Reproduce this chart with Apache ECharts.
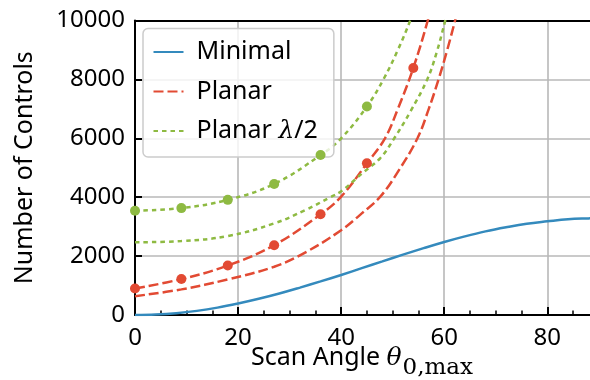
<!DOCTYPE html>
<html>
<head>
<meta charset="utf-8">
<script src="https://cdn.jsdelivr.net/npm/echarts@6/dist/echarts.min.js"></script>
<style>
  html, body { margin: 0; padding: 0; background: #fff; }
  #chart { width: 590px; height: 380px; }
</style>
</head>
<body>
<div id="chart"></div>
<script>
// Number of controls versus maximum scan angle (degrees)

// Minimal architecture
const minimalAngle = [0, 4, 8, 12, 16, 20, 24, 28, 32, 36, 40, 44, 48, 52, 56, 60, 64, 68, 72, 76, 80, 84, 88, 90];
const minimalCount = [0, 15, 60, 140, 250, 390, 550, 730, 930, 1140, 1360, 1590, 1820, 2050, 2270, 2480, 2670, 2840, 2980, 3100, 3180, 3250, 3280, 3290];

// Planar array: fitted curve through the sampled designs, plus the lower bound curve
const planarFitAngle = [0, 9, 18, 27, 36, 40, 45, 48.5, 51, 54, 56.8, 58.5];
const planarFitCount = [900, 1220, 1680, 2370, 3420, 4020, 5150, 6000, 7000, 8390, 10000, 11200];
const planarSampleAngle = [0, 9, 18, 27, 36, 45, 54];
const planarSampleCount = [900, 1220, 1680, 2370, 3420, 5150, 8390];
const planarBoundAngle = [0, 9, 18, 27, 33, 40, 44, 47.6, 51, 54.8, 57, 58.9, 60.5, 62.1, 63.5];
const planarBoundCount = [640, 870, 1210, 1640, 2120, 2880, 3450, 4020, 4860, 6000, 7000, 8000, 8950, 10000, 11000];

// Planar array with half-wavelength spacing
const halfFitAngle = [0, 9, 18, 27, 36, 40, 45, 48.2, 51, 53.4, 55];
const halfFitCount = [3540, 3630, 3910, 4450, 5430, 6000, 7080, 8000, 9000, 10000, 10800];
const halfSampleAngle = [0, 9, 18, 27, 36, 45];
const halfSampleCount = [3540, 3630, 3910, 4450, 5430, 7080];
const halfBoundAngle = [0, 9, 18, 27, 33, 37.9, 40, 44, 47.6, 50.3, 53.4, 56.7, 58.5, 60.2, 61.5];
const halfBoundCount = [2470, 2510, 2680, 3110, 3560, 4000, 4200, 4800, 5330, 6000, 6900, 8000, 8900, 10000, 10900];

const xTicks = { min: 0, max: 100, step: 20 };
const yTicks = { min: 0, max: 10000, step: 2000 };

const seriesNames = ['Minimal', 'Planar', 'Planar λ/2'];

const BLUE = '#348ABD', RED = '#E24A33', GREEN = '#8EBA42';
const FONT = 'Noto Sans';

function pairs(xs, ys) { return xs.map((x, i) => [x, ys[i]]); }

const chart = echarts.init(document.getElementById('chart'), null, { renderer: 'canvas' });

function curve(name, xs, ys, color, dash) {
  return {
    name: name, type: 'line', data: pairs(xs, ys),
    showSymbol: false, symbol: 'circle', smooth: 0.4,
    clip: true, z: 3,
    lineStyle: { color: color, width: 2.5, type: dash || 'solid', cap: 'butt' },
    itemStyle: { color: color },
    emphasis: { disabled: true }
  };
}
function samples(name, xs, ys, color) {
  return {
    name: name, type: 'scatter', data: pairs(xs, ys),
    symbol: 'circle', symbolSize: 10, clip: true, z: 4,
    itemStyle: { color: color, opacity: 1 },
    emphasis: { disabled: true }
  };
}

chart.setOption({
  animation: false,
  backgroundColor: '#ffffff',
  grid: { left: 135, top: 20.5, bottom: 65, width: 515.4, outerBoundsMode: 'none', containLabel: false },
  title: {
    text: '{a|Scan Angle }{t|θ}{s|0,max}',
    left: 251, top: 343, padding: 0,
    textStyle: {
      fontWeight: 'normal',
      rich: {
        a: { fontFamily: FONT, fontWeight: 'normal', fontSize: 25, color: '#000', lineHeight: 30 },
        t: { fontFamily: 'DejaVu Serif', fontWeight: 'normal', fontStyle: 'italic', fontSize: 25, color: '#000', lineHeight: 30 },
        s: { fontFamily: 'DejaVu Serif', fontWeight: 'normal', fontSize: 23, color: '#000', lineHeight: 30, padding: [20, 0, 0, 1] }
      }
    }
  },
  legend: {
    data: seriesNames,
    orient: 'vertical',
    left: 143, top: 28.5,
    padding: [8.5, 16, 11, 9.5],
    itemWidth: 30, itemHeight: 14, itemGap: 9.5,
    backgroundColor: 'rgba(255,255,255,0.8)',
    borderColor: '#cccccc', borderWidth: 1.5, borderRadius: 5,
    selectedMode: false,
    itemStyle: { opacity: 0 },
    formatter: function (name) { return name.replace('λ', '{l|λ}'); },
    textStyle: {
      fontFamily: FONT, fontSize: 25, color: '#000', lineHeight: 30, padding: [0, 0, 0, 8],
      rich: {
        l: { fontFamily: 'DejaVu Serif', fontStyle: 'italic', fontSize: 25, color: '#000', lineHeight: 30 }
      }
    }
  },
  xAxis: [{
    type: 'value', position: 'bottom',
    min: xTicks.min, max: xTicks.max, interval: xTicks.step,
    axisLine: { show: true, onZero: false, lineStyle: { color: '#000', width: 2 } },
    axisTick: { show: true, inside: true, length: 8, lineStyle: { color: '#000', width: 2 } },
    minorTick: { show: true, splitNumber: 4, length: 4.5, lineStyle: { color: '#000', width: 1.5 } },
    axisLabel: { color: '#000', fontFamily: FONT, fontSize: 24, margin: 11, formatter: v => String(v) },
    splitLine: { show: true, lineStyle: { color: '#b8b8b8', width: 1.6 } }
  }, {
    type: 'value', position: 'top',
    min: xTicks.min, max: xTicks.max, interval: xTicks.step,
    axisLine: { show: true, onZero: false, lineStyle: { color: '#000', width: 2 } },
    axisTick: { show: false }, axisLabel: { show: false }, splitLine: { show: false }
  }],
  yAxis: {
    type: 'value',
    min: yTicks.min, max: yTicks.max, interval: yTicks.step,
    name: 'Number of Controls', nameLocation: 'middle', nameGap: 98,
    nameTextStyle: { fontFamily: FONT, fontSize: 25, color: '#000' },
    axisLine: { show: true, onZero: false, lineStyle: { color: '#000', width: 2 } },
    axisTick: { show: true, inside: true, length: 7, lineStyle: { color: '#000', width: 2 } },
    axisLabel: { color: '#000', fontFamily: FONT, fontSize: 24, margin: 10, formatter: v => String(v) },
    splitLine: { show: true, lineStyle: { color: '#b8b8b8', width: 1.6 } }
  },
  series: [
    curve('Minimal', minimalAngle, minimalCount, BLUE),
    curve('Planar', planarFitAngle, planarFitCount, RED, [10, 4]),
    curve('Planar', planarBoundAngle, planarBoundCount, RED, [10, 4]),
    samples('Planar samples', planarSampleAngle, planarSampleCount, RED),
    curve('Planar λ/2', halfFitAngle, halfFitCount, GREEN, [4.5, 4]),
    curve('Planar λ/2', halfBoundAngle, halfBoundCount, GREEN, [4.5, 4]),
    samples('Planar λ/2 samples', halfSampleAngle, halfSampleCount, GREEN)
  ]
});
</script>
</body>
</html>
